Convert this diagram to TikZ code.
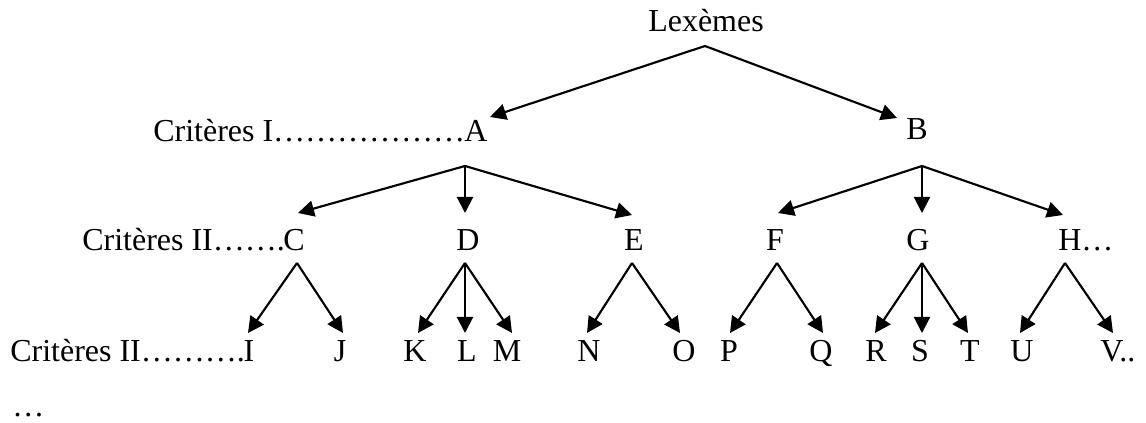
\documentclass[tikz,border=0pt]{standalone}
\usepackage{fontspec}
\setmainfont{Liberation Serif}
\usetikzlibrary{arrows.meta}
\tikzset{
  lbl/.style={inner sep=0pt, anchor=base, font=\fontsize{24}{28}\selectfont},
  lblw/.style={lbl, anchor=base west},
  arr/.style={line width=1.6pt, -{Triangle[length=12pt,width=12pt]}}
}
\begin{document}
\begin{tikzpicture}[x=0.75pt,y=-0.75pt]
\useasboundingbox (0,0) rectangle (1146,423);
% labels
\node[lbl] (lex) at (706,32) {Lexèmes};
\node[lblw] (crit1) at (153,142) {Critères I………………};
\node[lbl] (A) at (476,142) {A};
\node[lbl] (B) at (917,140) {B};
\node[lblw] (crit2) at (82,251) {Critères II…….};
\node[lbl] (C) at (294,251) {C};
\node[lbl] (D) at (468,251) {D};
\node[lbl] (E) at (634,251) {E};
\node[lbl] (F) at (775,251) {F};
\node[lbl] (G) at (918,251) {G};
\node[lblw] (H) at (1058,251) {H…};
\node[lblw] (crit3) at (10,362) {Critères II……….};
\node[lbl] (I) at (249,362) {I};
\node[lbl] (J) at (340,362) {J};
\node[lbl] (K) at (415,362) {K};
\node[lbl] (L) at (467,362) {L};
\node[lbl] (M) at (507,362) {M};
\node[lbl] (N) at (589,362) {N};
\node[lbl] (O) at (684,362) {O};
\node[lbl] (P) at (729,362) {P};
\node[lbl] (Q) at (821,362) {Q};
\node[lbl] (R) at (876,362) {R};
\node[lbl] (S) at (920,362) {S};
\node[lbl] (T) at (970,362) {T};
\node[lbl] (U) at (1022,362) {U};
\node[lblw] (V) at (1100,362) {V..};
\node[lblw] (dots) at (12,417) {…};
% apex points
\coordinate (lexa) at (705,46);
\coordinate (Aa) at (465,166);
\coordinate (Ba) at (922,166);
\coordinate (Ca) at (297,263);
\coordinate (Da) at (465,263);
\coordinate (Ea) at (632,263);
\coordinate (Fa) at (777,263);
\coordinate (Ga) at (922,263);
\coordinate (Ha) at (1065,263);
% tip points
\coordinate (At) at (490,117);
\coordinate (Bt) at (897,118);
\coordinate (Ct) at (298,213);
\coordinate (Dt) at (465,213);
\coordinate (Et) at (632,215);
\coordinate (Ft) at (778,213);
\coordinate (Gt) at (922,213);
\coordinate (Ht) at (1063,215);
\coordinate (It) at (248,333);
\coordinate (Jt) at (343,333);
\coordinate (Kt) at (418,333);
\coordinate (Lt) at (465,333);
\coordinate (Mt) at (512,333);
\coordinate (Nt) at (587,333);
\coordinate (Ot) at (680,333);
\coordinate (Pt) at (730,333);
\coordinate (Qt) at (823,333);
\coordinate (Rt) at (875,333);
\coordinate (St) at (922,333);
\coordinate (Tt) at (968,333);
\coordinate (Ut) at (1020,333);
\coordinate (Vt) at (1113,333);
% connectors
\draw[arr] (lexa) -- (At);
\draw[arr] (lexa) -- (Bt);
\draw[arr] (Aa) -- (Ct);
\draw[arr] (Aa) -- (Dt);
\draw[arr] (Aa) -- (Et);
\draw[arr] (Ba) -- (Ft);
\draw[arr] (Ba) -- (Gt);
\draw[arr] (Ba) -- (Ht);
\draw[arr] (Ca) -- (It);
\draw[arr] (Ca) -- (Jt);
\draw[arr] (Da) -- (Kt);
\draw[arr] (Da) -- (Lt);
\draw[arr] (Da) -- (Mt);
\draw[arr] (Ea) -- (Nt);
\draw[arr] (Ea) -- (Ot);
\draw[arr] (Fa) -- (Pt);
\draw[arr] (Fa) -- (Qt);
\draw[arr] (Ga) -- (Rt);
\draw[arr] (Ga) -- (St);
\draw[arr] (Ga) -- (Tt);
\draw[arr] (Ha) -- (Ut);
\draw[arr] (Ha) -- (Vt);
\end{tikzpicture}
\end{document}
